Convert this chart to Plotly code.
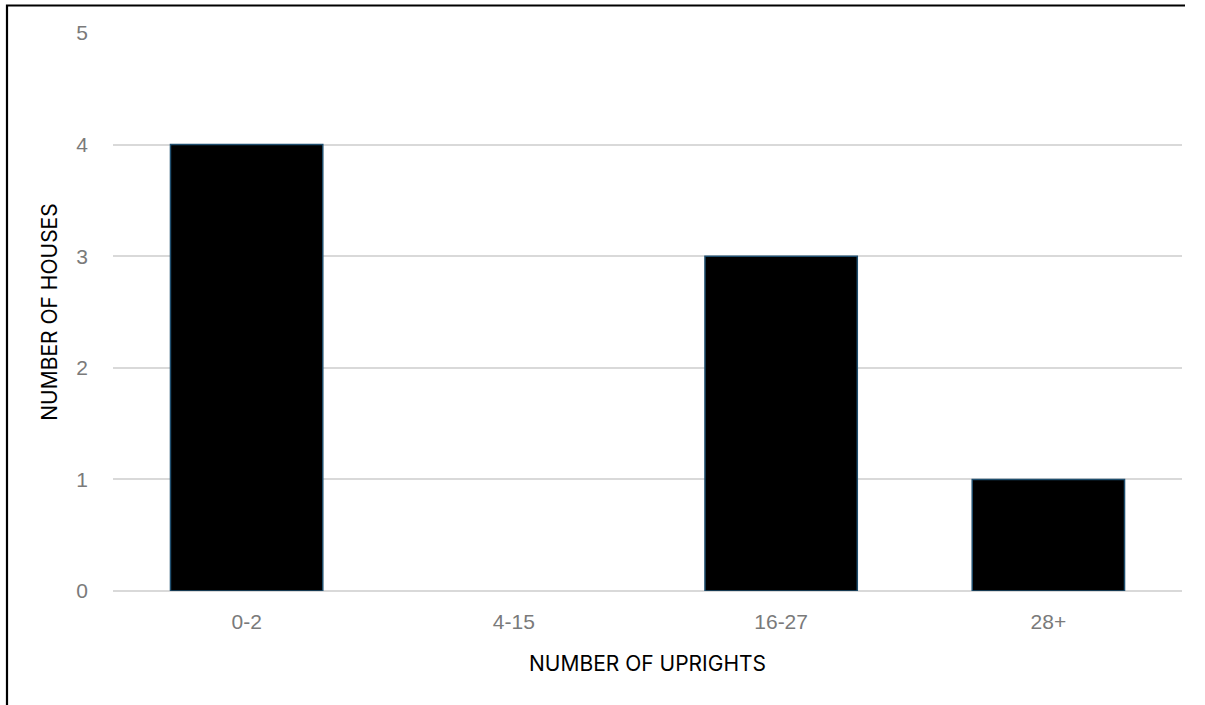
import plotly.graph_objects as go

# Upright-count bins and how many houses fall in each
categories = ["0-2", "4-15", "16-27", "28+"]
houses = [4, 0, 3, 1]
y_ticks = [0, 1, 2, 3, 4, 5]

W, H = 1205, 705
L, R, T, B = 113, 23, 33, 114

# no outline on empty bins
outline_widths = [1.5 if v > 0 else 0 for v in houses]

fig = go.Figure(
    go.Bar(
        x=categories,
        y=houses,
        marker=dict(color="#000000", line=dict(color="#1f4e6e", width=outline_widths)),
        width=0.57,
        hoverinfo="x+y",
    )
)

tick_font = dict(family="Liberation Sans, Arial, sans-serif", size=21, color="#7a7a7a")
title_font = dict(family="Inter, Noto Sans, sans-serif", size=21, color="#000000")

fig.update_layout(
    width=W,
    height=H,
    margin=dict(l=L, r=R, t=T, b=B),
    paper_bgcolor="white",
    plot_bgcolor="white",
    showlegend=False,
    font=dict(family="Liberation Sans, Arial, sans-serif", color="#7a7a7a", size=21),
    xaxis=dict(
        title=dict(text="NUMBER OF UPRIGHTS", font=title_font, standoff=24),
        showgrid=False,
        showline=False,
        ticks="",
        ticklabelstandoff=16,
        tickfont=tick_font,
    ),
    yaxis=dict(
        title=dict(text="NUMBER OF HOUSES", font=title_font, standoff=12),
        range=[0, 5],
        tickvals=y_ticks,
        showgrid=True,
        gridcolor="#d9d9d9",
        gridwidth=2,
        zeroline=True,
        zerolinecolor="#d9d9d9",
        zerolinewidth=2,
        showline=False,
        ticks="",
        ticklabelstandoff=24,
        tickfont=tick_font,
    ),
)

# Open frame along the left and top edges of the figure
pw, ph = W - L - R, H - T - B
def px_x(p):
    return (p - L) / pw
def px_y(p):
    return (H - B - p) / ph

frame_path = "M {:.5f},{:.5f} L {:.5f},{:.5f} L {:.5f},{:.5f}".format(
    px_x(7), px_y(H), px_x(7), px_y(5.5), px_x(W - 20), px_y(5.5)
)
fig.add_shape(type="path", xref="paper", yref="paper", path=frame_path,
              line=dict(color="black", width=2.2))

fig.write_html("out.html")
